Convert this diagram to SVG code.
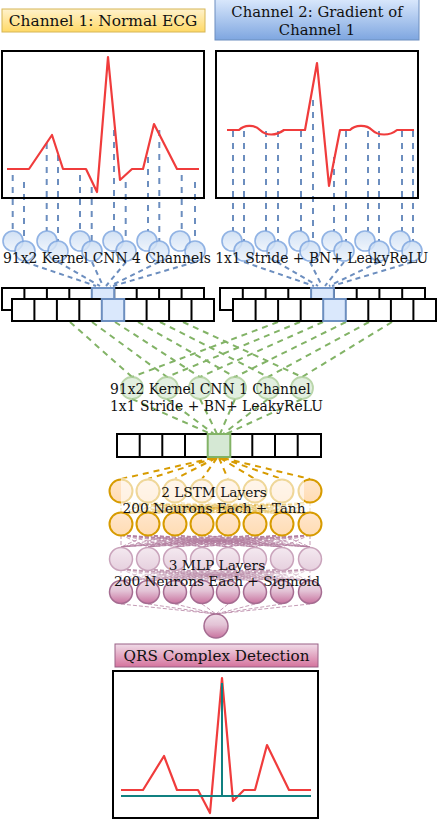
<svg xmlns="http://www.w3.org/2000/svg" xmlns:xlink="http://www.w3.org/1999/xlink" width="437" height="820" viewBox="0 0 437 820">
<defs>
<linearGradient id="gY" x1="0" y1="0" x2="0" y2="1"><stop offset="0" stop-color="#fff2cc"/><stop offset="1" stop-color="#ffd966"/></linearGradient>
<linearGradient id="gB" x1="0" y1="0" x2="0" y2="1"><stop offset="0" stop-color="#dae8fc"/><stop offset="1" stop-color="#7ea6e0"/></linearGradient>
<linearGradient id="gP" x1="0" y1="0" x2="0" y2="1"><stop offset="0" stop-color="#f0dce8"/><stop offset="1" stop-color="#d5739d"/></linearGradient>
<linearGradient id="gBc" x1="0" y1="0" x2="0" y2="1"><stop offset="0" stop-color="#c9dcf3"/><stop offset="1" stop-color="#eef4fc"/></linearGradient>
<linearGradient id="gO" x1="0" y1="0" x2="0" y2="1"><stop offset="0" stop-color="#ffe6cc"/><stop offset="1" stop-color="#ffdcb3"/></linearGradient>
<linearGradient id="gM1" x1="0" y1="0" x2="0" y2="1"><stop offset="0" stop-color="#f4e9f0"/><stop offset="1" stop-color="#e6d0de"/></linearGradient>
<linearGradient id="gM2" x1="0" y1="0" x2="0" y2="1"><stop offset="0" stop-color="#efdfe9"/><stop offset="0.45" stop-color="#e3c3d6"/><stop offset="1" stop-color="#c9739f"/></linearGradient>
<path id="bip" fill="none" d="M121,535L121,547M121,535L148,547M121,535L175,547M121,535L202,547M121,535L228,547M121,535L255,547M121,535L282,547M121,535L310,547M148,535L121,547M148,535L148,547M148,535L175,547M148,535L202,547M148,535L228,547M148,535L255,547M148,535L282,547M148,535L310,547M175,535L121,547M175,535L148,547M175,535L175,547M175,535L202,547M175,535L228,547M175,535L255,547M175,535L282,547M175,535L310,547M202,535L121,547M202,535L148,547M202,535L175,547M202,535L202,547M202,535L228,547M202,535L255,547M202,535L282,547M202,535L310,547M228,535L121,547M228,535L148,547M228,535L175,547M228,535L202,547M228,535L228,547M228,535L255,547M228,535L282,547M228,535L310,547M255,535L121,547M255,535L148,547M255,535L175,547M255,535L202,547M255,535L228,547M255,535L255,547M255,535L282,547M255,535L310,547M282,535L121,547M282,535L148,547M282,535L175,547M282,535L202,547M282,535L228,547M282,535L255,547M282,535L282,547M282,535L310,547M310,535L121,547M310,535L148,547M310,535L175,547M310,535L202,547M310,535L228,547M310,535L255,547M310,535L282,547M310,535L310,547"/>
</defs>
<style>
text{font-family:"DejaVu Serif","Liberation Serif",serif;fill:#111;}
.plot{fill:#fff;stroke:#000;stroke-width:2;}
.ecg{fill:none;stroke:#f03c3c;stroke-width:2.2;stroke-linejoin:round;}
.bd{fill:none;stroke:#6c8ebf;stroke-width:2;stroke-dasharray:6 6;}
.bd2{fill:none;stroke:#6c8ebf;stroke-width:2;stroke-dasharray:5 4;}
.gd{fill:none;stroke:#82b366;stroke-width:2;stroke-dasharray:6 5;}
.od{fill:none;stroke:#d79b00;stroke-width:2;stroke-dasharray:6 5;}
.pd{stroke:#b07a9c;stroke-width:1;stroke-dasharray:4 2;opacity:0.75;}
.cell{fill:#fff;stroke:#000;stroke-width:2;}
.bcell{fill:#dae8fc;stroke:#6c8ebf;stroke-width:2;}
.gcell{fill:#d5e8d4;stroke:#82b366;stroke-width:2;}
.bc{fill:url(#gBc);stroke:#7ea6e0;stroke-width:1.6;opacity:0.85;}
.gc{fill:#dcecd9;stroke:#a9cc95;stroke-width:1.8;opacity:0.8;}
.oc{fill:url(#gO);stroke:#d79b00;stroke-width:2;}
.m1{fill:url(#gM1);stroke:#c9a3bb;stroke-width:1.5;}
.m2{fill:url(#gM2);stroke:#a56c91;stroke-width:1.5;}
</style>

<g id="title1"><rect x="2" y="9" width="203" height="23" fill="url(#gY)" stroke="#d6b656" stroke-width="1"/><text x="103" y="26" font-size="15.4" text-anchor="middle">Channel 1: Normal ECG</text></g>
<g id="title2"><rect x="215" y="-1" width="204" height="41" fill="url(#gB)" stroke="#6c8ebf" stroke-width="1"/><text x="317" y="17" font-size="14.8" text-anchor="middle">Channel 2: Gradient of</text><text x="317" y="35" font-size="14.8" text-anchor="middle">Channel 1</text></g>

<g id="plot1"><rect class="plot" x="2" y="51" width="202" height="147"/></g>
<g id="plot2"><rect class="plot" x="216" y="51" width="202" height="147"/></g>

<g id="connectors">
<path class="bd" d="M12.7,175V231M24,182V241M46.7,143V231M58,155V241M80,175V231M91.7,187V241M114,130V231M125.7,182V241M148,157V231M159.3,130V241M181.7,175V231M195,182V241"/>
<path class="bd" d="M233,131V231M244,131V241M266,131V231M278,131V241M301,131V231M313,100V241M334,157V231M346,131V241M368,131V231M379,131V241M402,131V231M413,131V241"/>
<path class="bd2" d="M25,262L96,286M58,262L100,286M92,262L103,286M126,262L106,286M159,262L110,286M195,262L113,286"/>
<path class="bd2" d="M244,262L314,286M277,262L318,286M310,262L322,286M344,262L325,286M379,262L329,286M412,262L332,286"/>
<path class="gd" d="M70,322L132,377M92,322L167,377M115,322L200,377M138,322L235,377M160,322L268,377M183,322L302,377"/>
<path class="gd" d="M278,322L132,377M300,322L167,377M323,322L200,377M346,322L235,377M369,322L268,377M392,322L302,377"/>
<path class="gd" d="M132,399L211,434M167,399L214,434M200,399L217,434M235,399L220,434M268,399L223,434M302,399L226,434"/>
<path class="od" d="M213,458L121,479M215,458L148,479M216,458L175,479M217,458L202,479M219,458L228,479M220,458L255,479M221,458L282,479M223,458L310,479"/>
<use xlink:href="#bip" transform="translate(0,-33)" style="stroke:#d79b00;stroke-width:1;stroke-dasharray:4 2;opacity:0.3"/>
<use xlink:href="#bip" class="pd"/>
<use xlink:href="#bip" transform="translate(0,34)" style="stroke:#b07a9c;stroke-width:1;stroke-dasharray:4 2;opacity:0.45"/>
<path class="pd" fill="none" d="M121,604L216,614M148,604L216,614M175,604L216,614M202,604L216,614M228,604L216,614M255,604L216,614M282,604L216,614M310,604L216,614"/>
</g>

<g id="curves">
<path class="ecg" d="M7,169L29,169L52,135L63,169L86,169L97,192L108,57L120,180L132,169L143,169L154,124L177,169L199,169"/>
<path class="ecg" d="M227,130L239,130C244,125 254,124 260,130C266,136 276,136 284,130L305,130L317,63L329,186L340,130L350,130C355,125 366,124 372,130C378,136 390,136 397,130L414,130"/>
</g>
<g id="plotborders"><rect x="2" y="51" width="202" height="147" fill="none" stroke="#000" stroke-width="2"/><rect x="216" y="51" width="202" height="147" fill="none" stroke="#000" stroke-width="2"/></g>

<g id="cnn4">
<circle class="bc" cx="13" cy="241" r="10"/><circle class="bc" cx="25" cy="251" r="10"/>
<circle class="bc" cx="47" cy="241" r="10"/><circle class="bc" cx="58" cy="251" r="10"/>
<circle class="bc" cx="80" cy="241" r="10"/><circle class="bc" cx="92" cy="251" r="10"/>
<circle class="bc" cx="113" cy="241" r="10"/><circle class="bc" cx="126" cy="251" r="10"/>
<circle class="bc" cx="147" cy="241" r="10"/><circle class="bc" cx="159" cy="251" r="10"/>
<circle class="bc" cx="180" cy="241" r="10"/><circle class="bc" cx="195" cy="251" r="10"/>
<circle class="bc" cx="232" cy="241" r="10"/><circle class="bc" cx="244" cy="251" r="10"/>
<circle class="bc" cx="265" cy="241" r="10"/><circle class="bc" cx="277" cy="251" r="10"/>
<circle class="bc" cx="299" cy="241" r="10"/><circle class="bc" cx="310" cy="251" r="10"/>
<circle class="bc" cx="332" cy="241" r="10"/><circle class="bc" cx="344" cy="251" r="10"/>
<circle class="bc" cx="365" cy="241" r="10"/><circle class="bc" cx="379" cy="251" r="10"/>
<circle class="bc" cx="400" cy="241" r="10"/><circle class="bc" cx="412" cy="251" r="10"/>
<text x="3" y="263" font-size="13.9">91x2 Kernel CNN 4 Channels 1x1 Stride + BN+ LeakyReLU</text>
</g>

<g id="fmap1">
<rect class="cell" x="2" y="288" width="202" height="22"/>
<path fill="none" stroke="#000" stroke-width="2" d="M24.4,288V299M46.9,288V299M69.3,288V299M114.2,288V299M136.7,288V299M159.1,288V299M181.6,288V299"/>
<rect class="bcell" x="91.8" y="288" width="22.4" height="11"/>
<rect class="cell" x="12" y="299" width="202" height="22"/>
<path fill="none" stroke="#000" stroke-width="2" d="M34.4,299V321M56.9,299V321M79.3,299V321M146.6,299V321M169.1,299V321M191.5,299V321"/>
<rect class="bcell" x="101.8" y="299" width="22.4" height="22"/>
</g>
<g id="fmap2">
<rect class="cell" x="220" y="288" width="205" height="22"/>
<path fill="none" stroke="#000" stroke-width="2" d="M242.8,288V299M265.6,288V299M288.3,288V299M333.9,288V299M356.7,288V299M379.4,288V299M402.2,288V299"/>
<rect class="bcell" x="311.1" y="288" width="22.8" height="11"/>
<rect class="cell" x="233" y="299" width="203" height="22"/>
<path fill="none" stroke="#000" stroke-width="2" d="M255.6,299V321M278.1,299V321M300.7,299V321M368.3,299V321M390.9,299V321M413.4,299V321"/>
<rect class="bcell" x="323.2" y="299" width="22.6" height="22"/>
</g>

<g id="cnn1">
<circle class="gc" cx="132" cy="388" r="11"/><circle class="gc" cx="167" cy="388" r="11"/><circle class="gc" cx="200" cy="388" r="11"/><circle class="gc" cx="235" cy="388" r="11"/><circle class="gc" cx="268" cy="388" r="11"/><circle class="gc" cx="302" cy="388" r="11"/>
<text x="110" y="394" font-size="13.9">91x2 Kernel CNN 1 Channel</text>
<text x="110" y="411" font-size="13.9">1x1 Stride + BN+ LeakyReLU</text>
</g>

<g id="fmap3">
<rect class="cell" x="117" y="434" width="204" height="23"/>
<path fill="none" stroke="#000" stroke-width="2" d="M139.7,434V457M162.3,434V457M185,434V457M252.3,434V457M275,434V457M297.7,434V457"/>
<rect class="gcell" x="207.7" y="434" width="22.6" height="23"/>
</g>

<g id="lstm">
<circle class="oc" cx="121" cy="491" r="11.5"/><circle class="oc" cx="148" cy="491" r="11.5"/><circle class="oc" cx="175" cy="491" r="11.5"/><circle class="oc" cx="202" cy="491" r="11.5"/><circle class="oc" cx="228" cy="491" r="11.5"/><circle class="oc" cx="255" cy="491" r="11.5"/><circle class="oc" cx="282" cy="491" r="11.5"/><circle class="oc" cx="310" cy="491" r="11.5"/>
<rect x="121" y="478" width="183" height="26" fill="#fff" opacity="0.6"/>
<circle class="oc" cx="121" cy="524" r="11.5"/><circle class="oc" cx="148" cy="524" r="11.5"/><circle class="oc" cx="175" cy="524" r="11.5"/><circle class="oc" cx="202" cy="524" r="11.5"/><circle class="oc" cx="228" cy="524" r="11.5"/><circle class="oc" cx="255" cy="524" r="11.5"/><circle class="oc" cx="282" cy="524" r="11.5"/><circle class="oc" cx="310" cy="524" r="11.5"/>
<text x="214" y="497" font-size="13.7" text-anchor="middle">2 LSTM Layers</text>
<text x="214" y="513" font-size="13.7" text-anchor="middle">200 Neurons Each + Tanh</text>
</g>

<g id="mlp">
<circle class="m1" cx="121" cy="559" r="11.5"/><circle class="m1" cx="148" cy="559" r="11.5"/><circle class="m1" cx="175" cy="559" r="11.5"/><circle class="m1" cx="202" cy="559" r="11.5"/><circle class="m1" cx="228" cy="559" r="11.5"/><circle class="m1" cx="255" cy="559" r="11.5"/><circle class="m1" cx="282" cy="559" r="11.5"/><circle class="m1" cx="310" cy="559" r="11.5"/>
<circle class="m2" cx="121" cy="592" r="11.5"/><circle class="m2" cx="148" cy="592" r="11.5"/><circle class="m2" cx="175" cy="592" r="11.5"/><circle class="m2" cx="202" cy="592" r="11.5"/><circle class="m2" cx="228" cy="592" r="11.5"/><circle class="m2" cx="255" cy="592" r="11.5"/><circle class="m2" cx="282" cy="592" r="11.5"/><circle class="m2" cx="310" cy="592" r="11.5"/>
<text x="217" y="570" font-size="13.7" text-anchor="middle">3 MLP Layers</text>
<text x="217" y="586" font-size="13.7" text-anchor="middle">200 Neurons Each + Sigmoid</text>
</g>

<g id="output"><circle class="m2" cx="216" cy="626" r="12"/></g>

<g id="title3"><rect x="115" y="644" width="203" height="23" fill="url(#gP)" stroke="#996185" stroke-width="1"/><text x="216.5" y="661" font-size="15.2" text-anchor="middle">QRS Complex Detection</text></g>

<g id="plot3">
<rect class="plot" x="113" y="671" width="205" height="147"/>
<path class="ecg" d="M121,790L143,790L164,756L177,790L198,790L210,813L222,678L233,801L244,790L255,790L267,745L289,790L311,790"/>
<path fill="none" stroke="#108080" stroke-width="2" d="M121,796H311M222,683V796"/>
</g>
</svg>
